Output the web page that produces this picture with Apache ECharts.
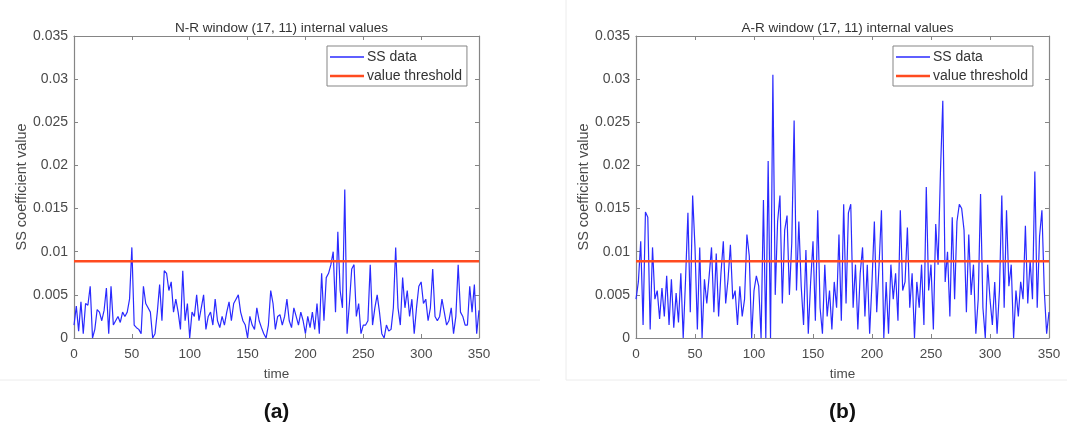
<!DOCTYPE html>
<html>
<head>
<meta charset="utf-8">
<script src="https://cdn.jsdelivr.net/npm/echarts@6/dist/echarts.min.js"></script>
<style>
    html, body { margin: 0; padding: 0; background: #fff; }
    #chart { width: 1067px; height: 430px; }
</style>
</head>
<body>
<div id="chart"></div>
<script>
// samples every 2 time units, t = 0..350
var SAMPLE_STEP = 2;

var nrValues = [
    0.0015, 0.0037, 0.0008, 0.0042, 0.0005, 0.004, 0.0038, 0.006, 0.0, 0.001,
    0.0033, 0.003, 0.002, 0.0032, 0.0058, 0.0005, 0.006, 0.0015, 0.002, 0.0025,
    0.0018, 0.003, 0.0025, 0.003, 0.0045, 0.0105, 0.0015, 0.0012, 0.001, 0.0005,
    0.006, 0.004, 0.0035, 0.003, 0.0, 0.0005, 0.003, 0.0062, 0.002, 0.0078,
    0.0075, 0.0055, 0.0065, 0.003, 0.0045, 0.003, 0.001, 0.0078, 0.002, 0.004,
    0.0, 0.003, 0.0025, 0.005, 0.002, 0.0035, 0.005, 0.001, 0.0025, 0.003,
    0.0015, 0.0045, 0.002, 0.0012, 0.0025, 0.0015, 0.003, 0.0042, 0.002, 0.004,
    0.0045, 0.005, 0.003, 0.002, 0.0015, 0.0, 0.0025, 0.0015, 0.001, 0.0035,
    0.002, 0.0012, 0.0005, 0.0, 0.0015, 0.0055, 0.004, 0.001, 0.0025, 0.0027,
    0.0015, 0.0025, 0.0045, 0.002, 0.0012, 0.0035, 0.0025, 0.0015, 0.003, 0.002,
    0.0005, 0.0025, 0.0012, 0.003, 0.001, 0.004, 0.0005, 0.0075, 0.002, 0.007,
    0.0075, 0.0085, 0.01, 0.003, 0.0123, 0.0055, 0.0035, 0.0172, 0.0005, 0.004,
    0.008, 0.0085, 0.0025, 0.004, 0.0005, 0.0015, 0.0015, 0.002, 0.0085, 0.0015,
    0.0035, 0.005, 0.003, 0.0005, 0.0, 0.0015, 0.0008, 0.001, 0.0035, 0.0105,
    0.0035, 0.0015, 0.007, 0.0035, 0.0055, 0.0025, 0.0045, 0.0005, 0.0035, 0.006,
    0.0065, 0.004, 0.0045, 0.002, 0.0035, 0.008, 0.0025, 0.002, 0.0025, 0.0045,
    0.003, 0.0015, 0.002, 0.0035, 0.0005, 0.0025, 0.0085, 0.003, 0.0025, 0.0015,
    0.0015, 0.006, 0.003, 0.0062, 0.0005, 0.0032
];

var arValues = [
    0.0045, 0.0065, 0.0112, 0.0015, 0.0146, 0.014, 0.001, 0.0105, 0.0045, 0.0055,
    0.0022, 0.0058, 0.0025, 0.0072, 0.0015, 0.0068, 0.0012, 0.0052, 0.0018, 0.0075,
    0.0, 0.0068, 0.0145, 0.003, 0.0165, 0.0105, 0.001, 0.0105, 0.0, 0.0068,
    0.004, 0.0072, 0.0105, 0.003, 0.0098, 0.0025, 0.0075, 0.0112, 0.004, 0.0068,
    0.0108, 0.0045, 0.0055, 0.0015, 0.006, 0.0025, 0.0045, 0.012, 0.0095, 0.0,
    0.0055, 0.0072, 0.006, 0.0, 0.016, 0.0, 0.0205, 0.0, 0.0305, 0.005,
    0.0135, 0.0165, 0.004, 0.0125, 0.0142, 0.005, 0.011, 0.0252, 0.0055, 0.0135,
    0.006, 0.0015, 0.0102, 0.0005, 0.0065, 0.0112, 0.002, 0.0148, 0.0035, 0.0005,
    0.0085, 0.0025, 0.0055, 0.001, 0.0065, 0.0035, 0.012, 0.002, 0.0155, 0.004,
    0.0145, 0.0155, 0.0035, 0.0085, 0.001, 0.0075, 0.0105, 0.0025, 0.0085, 0.0005,
    0.0065, 0.0135, 0.003, 0.0085, 0.0148, 0.0, 0.0065, 0.0005, 0.0085, 0.0045,
    0.0075, 0.002, 0.0148, 0.0055, 0.0065, 0.0128, 0.0035, 0.0075, 0.0, 0.0065,
    0.0035, 0.0085, 0.0015, 0.0175, 0.0055, 0.0085, 0.001, 0.0132, 0.0085, 0.0192,
    0.0275, 0.0065, 0.01, 0.0025, 0.014, 0.0045, 0.0135, 0.0155, 0.015, 0.0125,
    0.003, 0.012, 0.005, 0.0085, 0.0005, 0.0045, 0.0167, 0.0035, 0.0, 0.0085,
    0.0045, 0.0015, 0.0065, 0.0005, 0.0055, 0.0165, 0.0035, 0.0148, 0.006, 0.0085,
    0.0, 0.0055, 0.0025, 0.0065, 0.0045, 0.013, 0.004, 0.009, 0.0045, 0.0193,
    0.0035, 0.0118, 0.0148, 0.0055, 0.0005, 0.003
];

var threshold = 0.0089;
var timeRange = [0, 350];
var titles = ['N-R window (17, 11) internal values', 'A-R window (17, 11) internal values'];
var panelLabels = ['(a)', '(b)'];
var seriesNames = ['SS data', 'value threshold'];

var FONT = '"Liberation Sans", Arial, sans-serif';
var AXIS_COLOR = '#858585';
var LABEL_COLOR = '#4a4a4a';
var BLUE = '#2a2aff';
var RED = '#ff4b1f';

// pixel boxes of the two plot areas
var panels = [
    { left: 74, top: 36, width: 405, height: 302, legendLeft: 327 },
    { left: 636, top: 36, width: 413, height: 302, legendLeft: 893 }
];

function toPoints(values) {
    return values.map(function (v, i) { return [i * SAMPLE_STEP, v]; });
}

function fmtY(v) {
    return String(parseFloat(v.toFixed(4)));
}

function makeX(gridIndex, position, main) {
    return {
        type: 'value', gridIndex: gridIndex, position: position,
        min: timeRange[0], max: timeRange[1], interval: 50,
        name: main ? 'time' : '', nameLocation: 'middle', nameGap: 29,
        nameTextStyle: { color: LABEL_COLOR, fontFamily: FONT, fontSize: 13.5 },
        axisLine: { show: true, onZero: false, lineStyle: { color: AXIS_COLOR, width: 1.2 } },
        axisTick: { show: true, inside: true, length: 4, lineStyle: { color: AXIS_COLOR } },
        axisLabel: { show: main, color: LABEL_COLOR, fontFamily: FONT, fontSize: 13.5, margin: 9 },
        splitLine: { show: false }
    };
}

function makeY(gridIndex, position, main) {
    return {
        type: 'value', gridIndex: gridIndex, position: position,
        min: 0, max: 0.035, interval: 0.005,
        name: main ? 'SS coefficient value' : '', nameLocation: 'middle', nameGap: 45,
        nameTextStyle: { color: LABEL_COLOR, fontFamily: FONT, fontSize: 14.5 },
        axisLine: { show: true, onZero: false, lineStyle: { color: AXIS_COLOR, width: 1.2 } },
        axisTick: { show: true, inside: true, length: 4, lineStyle: { color: AXIS_COLOR } },
        axisLabel: { show: main, color: LABEL_COLOR, fontFamily: FONT, fontSize: 14, margin: 6, formatter: fmtY },
        splitLine: { show: false }
    };
}

var grids = [], xAxes = [], yAxes = [], series = [], titleList = [], legends = [];
var dataSets = [nrValues, arValues];

panels.forEach(function (p, k) {
    grids.push({ left: p.left, top: p.top, width: p.width, height: p.height, containLabel: false });
    xAxes.push(makeX(k, 'bottom', true), makeX(k, 'top', false));
    yAxes.push(makeY(k, 'left', true), makeY(k, 'right', false));

    titleList.push({
        text: titles[k], left: p.left + p.width / 2, top: 16, textAlign: 'center',
        textStyle: { color: '#333', fontFamily: FONT, fontSize: 13.5, fontWeight: 'normal' }
    });
    titleList.push({
        text: panelLabels[k], left: p.left + p.width / 2 - 5, top: 397, textAlign: 'center',
        textStyle: { color: '#111', fontFamily: FONT, fontSize: 21, fontWeight: 'bold' }
    });

    legends.push({
        data: [
            { name: seriesNames[0], icon: 'path://M0,0H34V1.3H0Z' },
            { name: seriesNames[1], icon: 'path://M0,0H34V2.6H0Z' }
        ],
        orient: 'vertical', left: p.legendLeft, top: 46,
        padding: [4, 5, 3, 3], itemGap: 5, itemWidth: 34, itemHeight: 15,
        symbolKeepAspect: true,
        borderColor: AXIS_COLOR, borderWidth: 1, backgroundColor: '#fff',
        selectedMode: false,
        textStyle: { color: '#333', fontFamily: FONT, fontSize: 14, padding: [0, 0, 0, -2] }
    });

    series.push({
        type: 'line', name: seriesNames[0], xAxisIndex: k * 2, yAxisIndex: k * 2,
        data: toPoints(dataSets[k]), symbol: 'none', showSymbol: false,
        lineStyle: { color: BLUE, width: 1.2 }, itemStyle: { color: BLUE },
        z: 2
    });
    series.push({
        type: 'line', name: seriesNames[1], xAxisIndex: k * 2, yAxisIndex: k * 2,
        data: [[timeRange[0], threshold], [timeRange[1], threshold]],
        symbol: 'none', showSymbol: false,
        lineStyle: { color: RED, width: 2.6 }, itemStyle: { color: RED },
        z: 3
    });
});

var chart = echarts.init(document.getElementById('chart'));
chart.setOption({
    animation: false,
    backgroundColor: '#fff',
    title: titleList,
    legend: legends,
    grid: grids,
    xAxis: xAxes,
    yAxis: yAxes,
    series: series,
    graphic: [
        { type: 'line', shape: { x1: 0, y1: 380, x2: 540, y2: 380 }, style: { stroke: '#ececec', lineWidth: 1 } },
        { type: 'line', shape: { x1: 566, y1: 380, x2: 1067, y2: 380 }, style: { stroke: '#ececec', lineWidth: 1 } },
        { type: 'line', shape: { x1: 566, y1: 0, x2: 566, y2: 380 }, style: { stroke: '#ececec', lineWidth: 1 } }
    ]
});
</script>
</body>
</html>
